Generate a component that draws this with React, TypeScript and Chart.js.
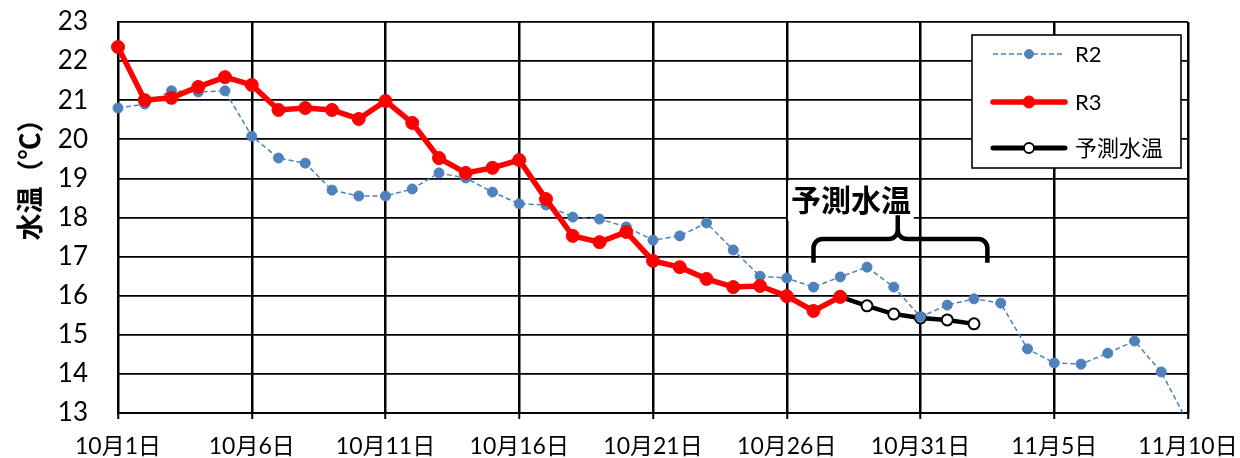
import React, { useEffect, useRef } from 'react';
import { Chart, registerables } from 'chart.js';

Chart.register(...registerables);

const xLabels = [
  '10月1日', '10月2日', '10月3日', '10月4日', '10月5日', '10月6日', '10月7日', '10月8日', '10月9日', '10月10日',
  '10月11日', '10月12日', '10月13日', '10月14日', '10月15日', '10月16日', '10月17日', '10月18日', '10月19日', '10月20日',
  '10月21日', '10月22日', '10月23日', '10月24日', '10月25日', '10月26日', '10月27日', '10月28日', '10月29日', '10月30日',
  '10月31日', '11月1日', '11月2日', '11月3日', '11月4日', '11月5日', '11月6日', '11月7日', '11月8日', '11月9日',
  '11月10日',
];

const r2Values = [
  20.8, 20.9, 21.24, 21.21, 21.24, 20.08, 19.52, 19.39, 18.7, 18.55,
  18.55, 18.73, 19.14, 19.01, 18.65, 18.35, 18.32, 18.01, 17.96, 17.76,
  17.42, 17.53, 17.86, 17.17, 16.5, 16.45, 16.22, 16.48, 16.73, 16.22,
  15.46, 15.76, 15.92, 15.81, 14.64, 14.28, 14.25, 14.53, 14.84, 14.05,
  12.75,
];

const r3Values = [
  22.36, 21.0, 21.06, 21.34, 21.59, 21.39, 20.75, 20.8, 20.75, 20.52,
  20.98, 20.42, 19.52, 19.14, 19.27, 19.47, 18.47, 17.53, 17.37, 17.63,
  16.89, 16.73, 16.43, 16.22, 16.25, 15.99, 15.61, 15.97, null, null,
  null, null, null, null, null, null, null, null, null, null,
  null,
];

const predValues = [
  null, null, null, null, null, null, null, null, null, null,
  null, null, null, null, null, null, null, null, null, null,
  null, null, null, null, null, null, null, 15.97, 15.74, 15.53,
  15.43, 15.38, 15.28, null, null, null, null, null, null, null,
  null,
];

const seriesNames = ['R2', 'R3', '予測水温'];
const yMin = 13;
const yMax = 23;
const yStep = 1;
const xLabelEvery = 5;

const yTitle = '水温（℃）';
const noteText = '予測水温';
// brace annotation in data coordinates (category index, temperature)
const braceLeft = 26;
const braceRight = 32.5;
const braceMid = 29.15;
const braceTopVal = 17.45;
const braceBottomVal = 16.84;
const braceTipVal = 18.06;
const noteX = 27.4;
const noteY = 18.45;

const FONT = 'Lato, "Noto Sans CJK JP", sans-serif';
const CJK = '"Noto Sans CJK JP", sans-serif';

const blue = '#4F81BD';
const red = '#FF0000';

const annotationPlugin = {
  id: 'braceNote',
  afterDatasetsDraw(chart: any) {
    const { ctx, scales } = chart;
    const x = scales.x;
    const y = scales.y;
    ctx.save();
    ctx.font = `bold 30px ${CJK}`;
    const tx = x.getPixelForValue(noteX);
    const ty = y.getPixelForValue(noteY);
    const tw = ctx.measureText(noteText).width;
    ctx.fillStyle = '#fff';
    ctx.fillRect(tx - tw / 2 - 3, ty - 19, tw + 6, 40);
    ctx.fillStyle = '#000';
    ctx.textAlign = 'center';
    ctx.textBaseline = 'middle';
    ctx.fillText(noteText, tx, ty);

    const L = x.getPixelForValue(braceLeft);
    const R = x.getPixelForValue(braceRight);
    const C = x.getPixelForValue(braceMid);
    const T = y.getPixelForValue(braceTopVal);
    const B = y.getPixelForValue(braceBottomVal);
    const P = y.getPixelForValue(braceTipVal);
    const r = 9;
    ctx.strokeStyle = '#000';
    ctx.lineWidth = 4.5;
    ctx.lineJoin = 'round';
    ctx.beginPath();
    ctx.moveTo(L, B);
    ctx.lineTo(L, T + r);
    ctx.arcTo(L, T, L + r, T, r);
    ctx.lineTo(C - r, T);
    ctx.arcTo(C, T, C, T - r, r);
    ctx.lineTo(C, P);
    ctx.moveTo(C, T - r);
    ctx.arcTo(C, T, C + r, T, r);
    ctx.lineTo(R - r, T);
    ctx.arcTo(R, T, R, T + r, r);
    ctx.lineTo(R, B);
    ctx.stroke();
    ctx.restore();
  },
};

const legendPlugin = {
  id: 'boxLegend',
  afterDraw(chart: any) {
    const { ctx } = chart;
    const x0 = 972;
    const y0 = 35;
    const w = 209;
    const h = 133;
    ctx.save();
    ctx.fillStyle = '#fff';
    ctx.fillRect(x0, y0, w, h);
    ctx.strokeStyle = '#000';
    ctx.lineWidth = 1.6;
    ctx.strokeRect(x0, y0, w, h);
    const rows = [54, 102, 148];
    const styles = [
      { color: blue, width: 1.5, dash: [5, 3], cap: 'butt', r: 4.5, fill: blue, stroke: blue, sw: 1 },
      { color: red, width: 5.5, dash: [], cap: 'round', r: 6, fill: red, stroke: red, sw: 1 },
      { color: '#000', width: 5, dash: [], cap: 'round', r: 5, fill: '#fff', stroke: '#000', sw: 1.8 },
    ];
    rows.forEach((ry, i) => {
      const s = styles[i];
      ctx.beginPath();
      ctx.setLineDash(s.dash);
      ctx.lineCap = s.cap;
      ctx.strokeStyle = s.color;
      ctx.lineWidth = s.width;
      ctx.moveTo(993, ry);
      ctx.lineTo(1065, ry);
      ctx.stroke();
      ctx.setLineDash([]);
      ctx.beginPath();
      ctx.arc(1029, ry, s.r, 0, Math.PI * 2);
      ctx.fillStyle = s.fill;
      ctx.fill();
      ctx.lineWidth = s.sw;
      ctx.strokeStyle = s.stroke;
      ctx.stroke();
      ctx.fillStyle = '#000';
      ctx.font = `22px ${FONT}`;
      ctx.textAlign = 'left';
      ctx.textBaseline = 'middle';
      ctx.fillText(seriesNames[i], 1075, ry + 1);
    });
    ctx.save();
    ctx.translate(30, 173);
    ctx.rotate(-Math.PI / 2);
    ctx.font = `bold 27px ${CJK}`;
    ctx.fillStyle = '#000';
    ctx.textAlign = 'center';
    ctx.textBaseline = 'middle';
    ctx.fillText(yTitle, 0, 0);
    ctx.restore();
    ctx.restore();
  },
};

export default function App() {
  const ref = useRef<HTMLCanvasElement>(null);
  useEffect(() => {
    document.body.style.margin = '0';
    const major = (c: any) => c.index % xLabelEvery === 0;
    const chart = new Chart(ref.current as HTMLCanvasElement, {
      type: 'line',
      data: {
        labels: xLabels,
        datasets: [
          {
            label: seriesNames[0],
            data: r2Values,
            borderColor: blue,
            backgroundColor: blue,
            borderWidth: 1.5,
            borderDash: [5, 3],
            pointRadius: 5,
            pointBackgroundColor: blue,
            pointBorderColor: blue,
            pointBorderWidth: 1,
            tension: 0,
            order: 1,
          },
          {
            label: seriesNames[1],
            data: r3Values,
            borderColor: red,
            backgroundColor: red,
            borderWidth: 5.5,
            pointRadius: 6.5,
            pointBackgroundColor: red,
            pointBorderColor: red,
            pointBorderWidth: 1,
            tension: 0,
            order: 0,
          },
          {
            label: seriesNames[2],
            data: predValues,
            borderColor: '#000',
            backgroundColor: '#000',
            borderWidth: 4.5,
            pointRadius: 5.5,
            pointBackgroundColor: (c: any) => (c.dataIndex === 27 ? red : '#fff'),
            pointBorderColor: '#000',
            pointBorderWidth: 2,
            tension: 0,
            order: 2,
          },
        ],
      },
      options: {
        animation: false,
        responsive: false,
        maintainAspectRatio: false,
        devicePixelRatio: 1,
        layout: { autoPadding: false, padding: { top: 22, right: 52, left: 0, bottom: 0 } },
        plugins: {
          legend: { display: false },
          tooltip: { enabled: false },
        },
        scales: {
          x: {
            type: 'category',
            offset: false,
            afterFit: (s: any) => { s.height = 45; },
            border: { color: '#000', width: 2 },
            grid: {
              color: (c: any) => (major(c) ? '#000' : 'rgba(0,0,0,0)'),
              lineWidth: (c: any) => (major(c) ? 2.5 : 0),
              tickLength: 6,
              tickColor: (c: any) => (major(c) ? '#000' : 'rgba(0,0,0,0)'),
              tickWidth: 2,
            },
            ticks: {
              autoSkip: false,
              maxRotation: 0,
              minRotation: 0,
              color: '#000',
              padding: 2,
              font: { family: FONT, size: 23, lineHeight: 2.2 },
              callback: (_v: any, i: number) => (i % xLabelEvery === 0 ? xLabels[i] : ''),
            },
          },
          y: {
            min: yMin,
            max: yMax,
            afterFit: (s: any) => { s.width = 118; },
            border: { color: '#000', width: 2 },
            grid: { color: '#000', lineWidth: 1.8, drawTicks: true, tickLength: 30, tickColor: 'rgba(0,0,0,0)' },
            ticks: {
              stepSize: yStep,
              color: '#000',
              padding: 0,
              font: { family: FONT, size: 26 },
            },
          },
        },
      },
      plugins: [annotationPlugin, legendPlugin],
    } as any);
    return () => chart.destroy();
  }, []);
  return (
    <div style={{ width: 1240, height: 458, background: '#fff' }}>
      <canvas ref={ref} width={1240} height={458} style={{ display: 'block', width: 1240, height: 458 }} />
    </div>
  );
}
